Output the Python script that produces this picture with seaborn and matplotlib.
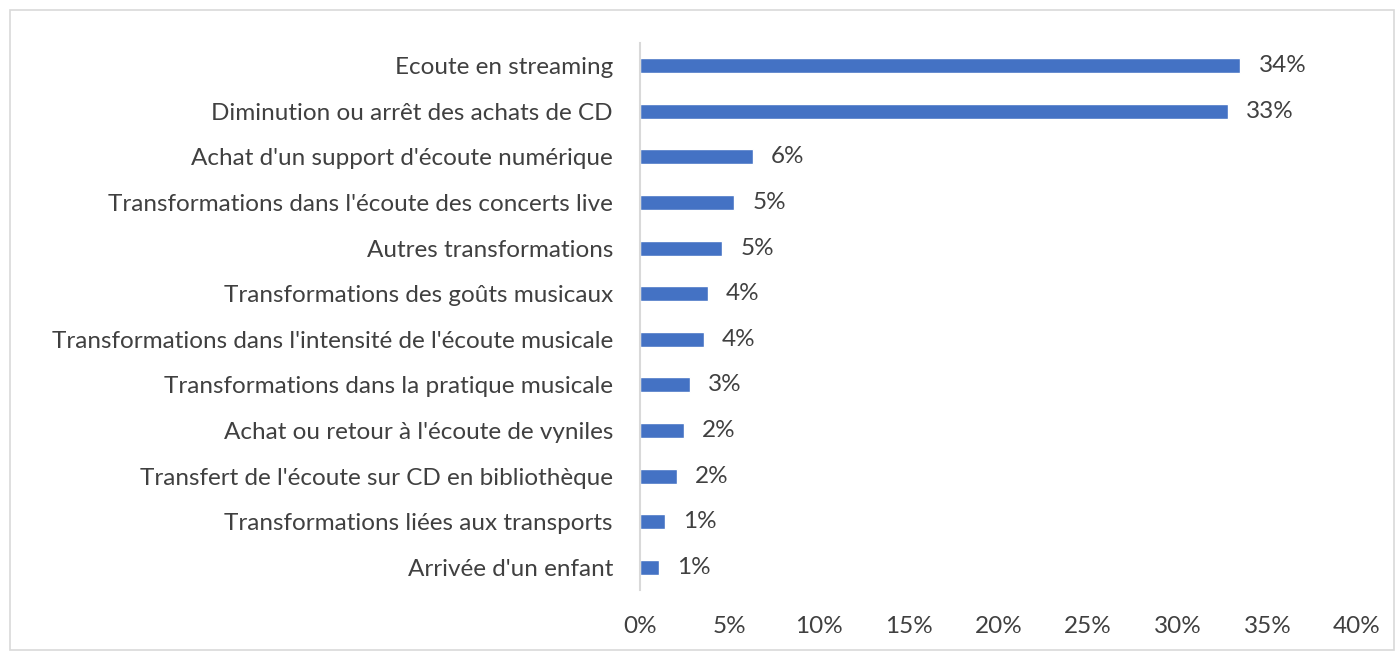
import pandas as pd
import matplotlib.pyplot as plt
import matplotlib.patches as mpatches
import seaborn as sns
from matplotlib.ticker import PercentFormatter

categories = [
    "Ecoute en streaming",
    "Diminution ou arrêt des achats de CD",
    "Achat d'un support d'écoute numérique",
    "Transformations dans l'écoute des concerts live",
    "Autres transformations",
    "Transformations des goûts musicaux",
    "Transformations dans l'intensité de l'écoute musicale",
    "Transformations dans la pratique musicale",
    "Achat ou retour à l'écoute de vyniles",
    "Transfert de l'écoute sur CD en bibliothèque",
    "Transformations liées aux transports",
    "Arrivée d'un enfant",
]
values = [0.335, 0.328, 0.063, 0.0525, 0.046, 0.038, 0.0355, 0.028, 0.0246, 0.0207, 0.014, 0.0106]
ticks = [0, 0.05, 0.10, 0.15, 0.20, 0.25, 0.30, 0.35, 0.40]

df = pd.DataFrame({'Category': categories, 'Share': values})

sns.set_style('white')
plt.rcParams['font.family'] = ['Lato', 'DejaVu Sans']
text_color = '#404040'
fs = 17.5

fig = plt.figure(figsize=(13.99, 6.55), dpi=100)
ax = fig.add_axes([640 / 1399, 1 - 590 / 655, (1357 - 640) / 1399, (590 - 43) / 655])

sns.barplot(data=df, y='Category', x='Share', orient='h', color='#4472C4',
            width=0.33, saturation=1, ax=ax)

ax.bar_label(ax.containers[0], labels=[f"{v:.0%}" for v in values],
             padding=13, fontsize=fs, color=text_color)

ax.set_xlim(0, 0.40)
ax.set_xticks(ticks)
ax.xaxis.set_major_formatter(PercentFormatter(1.0, decimals=0))
ax.set_xlabel('')
ax.set_ylabel('')
ax.tick_params(axis='x', labelsize=fs, colors=text_color, length=0, pad=19)
ax.tick_params(axis='y', labelsize=fs, colors=text_color, length=0, pad=19.5)
for s in ['top', 'right', 'bottom']:
    ax.spines[s].set_visible(False)
ax.spines['left'].set_color('#d9d9d9')
ax.spines['left'].set_linewidth(1.5)

# chart border like the spreadsheet frame
fig.patches.append(mpatches.Rectangle((10 / 1399, 5 / 655), 1384 / 1399, 640 / 655,
                                      transform=fig.transFigure, fill=False,
                                      edgecolor='#d9d9d9', linewidth=1.2))

fig.savefig('out.png', dpi=100)
